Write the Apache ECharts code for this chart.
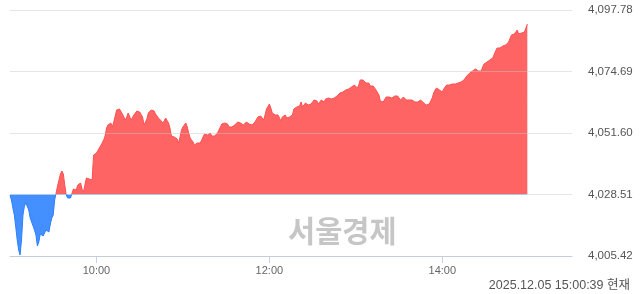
<!DOCTYPE html>
<html>
<head>
<meta charset="utf-8">
<script src="https://cdn.jsdelivr.net/npm/echarts@6/dist/echarts.min.js"></script>
<style>
html,body{margin:0;padding:0;background:#fff;}
#chart{width:640px;height:294px;}
</style>
</head>
<body>
<div id="chart"></div>
<script>
// previous close (baseline)
const prevClose = 4028.51;
// y-axis ticks
const yTicks = [4005.42, 4028.51, 4051.60, 4074.69, 4097.78];
// x-axis tick labels
const xTickLabels = ['10:00', '12:00', '14:00'];
const sessionStart = '09:00';
const sessionEnd = '15:30';
const stamp = '2025.12.05 15:00:39 현재';
const watermark = '서울경제';

// minute values, 09:00 - 09:59
const p0900 = [4028.20,4026.44,4023.44,4020.81,4016.31,4011.43,4007.67,4005.80,4011.43,4020.81,
4024.19,4025.32,4025.69,4022.69,4019.69,4018.18,4016.68,4015.18,4013.30,4009.17,
4010.68,4013.68,4013.68,4012.93,4012.55,4015.18,4015.56,4014.43,4017.43,4019.69,
4020.81,4026.44,4029.07,4031.70,4033.95,4036.21,4037.33,4036.21,4032.08,4028.32,
4027.20,4027.57,4027.20,4027.57,4030.57,4029.82,4030.20,4032.08,4031.33,4032.83,
4030.57,4029.45,4032.08,4034.70,4034.70,4034.33,4035.08,4033.95,4043.34,4044.09];
// 10:00 - 10:59
const p1000 = [4044.09,4044.47,4045.97,4046.72,4047.85,4048.97,4050.47,4053.48,4054.60,4054.98,
4055.35,4053.85,4055.73,4057.98,4060.24,4060.99,4060.61,4059.86,4058.73,4057.98,
4056.48,4057.61,4059.11,4058.36,4056.48,4057.23,4058.36,4058.36,4059.86,4059.48,
4059.48,4059.86,4057.61,4054.60,4054.23,4056.86,4059.11,4059.86,4060.24,4060.24,
4059.86,4058.73,4057.98,4057.23,4057.61,4056.11,4055.35,4056.11,4057.23,4056.48,
4055.35,4053.48,4050.47,4049.72,4050.10,4050.47,4049.35,4047.85,4050.10,4052.73];
// 11:00 - 11:59
const p1100 = [4053.85,4054.60,4055.35,4053.85,4051.60,4049.72,4049.35,4048.22,4047.09,4047.47,
4047.85,4047.47,4047.85,4048.97,4050.10,4051.22,4051.60,4050.85,4051.22,4051.60,
4050.47,4050.47,4050.47,4050.47,4051.60,4052.35,4053.85,4054.98,4055.35,4055.35,
4055.35,4054.98,4053.85,4053.48,4053.85,4053.48,4054.60,4054.98,4055.73,4055.73,
4055.35,4054.60,4054.60,4055.35,4055.73,4055.35,4054.98,4054.60,4054.60,4054.98,
4055.73,4056.48,4057.61,4058.36,4057.98,4057.23,4056.48,4058.36,4060.61,4061.36];
// 12:00 - 12:59
const p1200 = [4062.49,4060.99,4059.11,4058.73,4058.36,4058.36,4058.36,4057.23,4056.11,4057.61,
4057.98,4058.36,4057.23,4057.61,4057.61,4057.61,4058.36,4060.61,4061.36,4061.36,
4061.36,4061.74,4063.24,4061.36,4062.11,4062.86,4063.24,4062.11,4061.74,4062.49,
4063.24,4063.99,4064.74,4063.61,4062.49,4063.24,4063.99,4063.61,4063.24,4064.37,
4064.74,4064.74,4064.74,4064.37,4063.99,4064.74,4065.12,4065.49,4066.24,4066.62,
4066.62,4066.99,4067.37,4067.74,4068.12,4068.12,4068.12,4068.87,4069.25,4069.62];
// 13:00 - 13:59
const p1300 = [4068.87,4068.50,4069.62,4071.50,4072.25,4071.50,4071.50,4070.37,4069.62,4070.37,
4069.25,4069.25,4069.25,4068.50,4067.74,4067.37,4065.87,4063.61,4063.24,4063.24,
4063.61,4065.12,4065.12,4065.12,4065.12,4064.74,4065.49,4065.49,4065.49,4065.49,
4065.12,4063.99,4064.74,4065.12,4065.87,4063.99,4063.99,4063.99,4063.99,4063.99,
4063.61,4063.24,4062.86,4063.24,4063.61,4063.99,4063.61,4062.86,4062.49,4062.11,
4062.11,4062.49,4063.24,4064.74,4066.62,4067.74,4068.50,4068.50,4067.74,4066.99];
// 14:00 - 14:59
const p1400 = [4066.99,4068.12,4068.87,4069.62,4069.62,4069.62,4069.25,4070.00,4069.62,4070.00,
4070.37,4070.37,4070.75,4070.75,4071.12,4071.50,4072.25,4073.00,4073.75,4074.13,
4074.50,4074.88,4075.25,4075.63,4075.25,4074.88,4074.13,4074.88,4076.38,4077.51,
4077.88,4078.26,4078.63,4079.01,4079.76,4079.76,4080.51,4082.39,4083.51,4083.51,
4083.51,4083.89,4084.26,4084.26,4084.64,4085.01,4085.77,4086.52,4088.39,4089.14,
4088.77,4088.77,4090.27,4088.77,4089.14,4089.14,4089.14,4089.52,4090.27,4092.52];

const values = [].concat(p0900, p1000, p1100, p1200, p1300, p1400);

// category axis: every minute of the session
function toMin(s){ const [h,m] = s.split(':').map(Number); return h*60+m; }
const categories = [];
for (let t = toMin(sessionStart); t <= toMin(sessionEnd); t++) {
  const h = Math.floor(t/60), m = t%60;
  categories.push(String(h).padStart(2,'0') + ':' + String(m).padStart(2,'0'));
}

const FONT = "'Liberation Sans', Arial, 'Noto Sans CJK KR', sans-serif";
const chart = echarts.init(document.getElementById('chart'), null, {renderer: 'canvas'});
const showTick = (idx, val) => xTickLabels.indexOf(categories[idx]) >= 0;

chart.setOption({
  animation: false,
  backgroundColor: '#ffffff',
  grid: {left: 10, right: 68, top: 10, bottom: 38, containLabel: false},
  xAxis: {
    type: 'category',
    data: categories,
    boundaryGap: false,
    axisLine: {show: true, lineStyle: {color: '#c6d2e6', width: 1}},
    axisTick: {show: true, interval: showTick, length: 7, lineStyle: {color: '#c6d2e6'}},
    axisLabel: {show: true, interval: showTick, color: '#666', fontSize: 11, fontFamily: FONT, margin: 9},
    splitLine: {show: false}
  },
  yAxis: {
    type: 'value',
    position: 'right',
    min: yTicks[0],
    max: yTicks[yTicks.length - 1],
    interval: +(yTicks[1] - yTicks[0]).toFixed(2),
    z: 3,
    axisLine: {show: false},
    axisTick: {show: false},
    splitLine: {show: true, lineStyle: {color: 'rgba(200,200,200,0.45)', width: 1}},
    axisLabel: {
      color: '#555', fontSize: 11.5, fontFamily: FONT, margin: 16,
      formatter: v => Number(v).toLocaleString('en-US', {minimumFractionDigits: 2, maximumFractionDigits: 2})
    }
  },
  visualMap: {
    show: false,
    type: 'piecewise',
    dimension: 1,
    seriesIndex: 0,
    pieces: [
      {gt: 3000, lte: prevClose, color: '#2b80ff'},
      {gt: prevClose, lte: 6000, color: '#ff4f4f'}
    ]
  },
  series: [{
    type: 'line',
    data: values,
    showSymbol: false,
    symbol: 'none',
    smooth: false,
    lineStyle: {width: 1},
    areaStyle: {origin: prevClose, opacity: 0.88},
    z: 2
  }],
  graphic: [
    {
      type: 'text', left: 288, top: 216, z: 1,
      style: {text: watermark, fill: '#c6c6c6', font: "bold 29.5px 'Noto Sans CJK KR', sans-serif"}
    },
    {
      type: 'text', right: 10, top: 279,
      style: {text: stamp, fill: '#555', font: "12.5px " + FONT}
    }
  ]
});
</script>
</body>
</html>
